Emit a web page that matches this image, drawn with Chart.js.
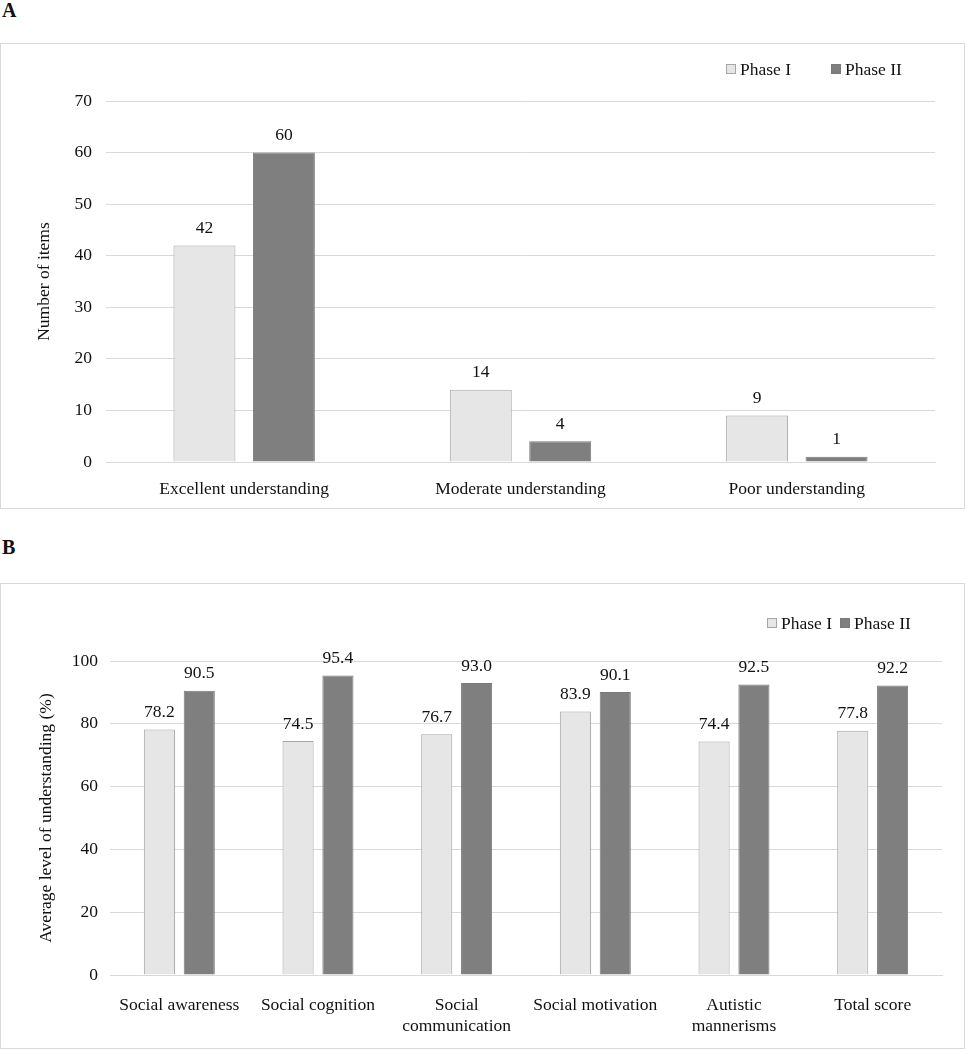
<!DOCTYPE html>
<html lang="en">
<head>
    <meta charset="UTF-8">
    <title>Phase I vs Phase II understanding</title>
    <script src="https://cdn.jsdelivr.net/npm/chart.js@4.4.0/dist/chart.umd.min.js"></script>
    <style>
        body { margin: 0; background: #fff; font-family: "Liberation Serif", "Times New Roman", serif; color: #111; }
        .page { position: relative; width: 966px; height: 1050px; }
        .tag { position: absolute; left: 2px; font-weight: bold; font-size: 20px; }
        .panel { position: absolute; left: 0; width: 965px; height: 466px; box-sizing: border-box; border: 1px solid #d9d9d9; }
        .panel canvas { display: block; }
        .legend { position: absolute; display: flex; font-size: 17.5px; line-height: 20px; }
        .legend span.item { display: flex; align-items: center; }
        .legend span.box { display: inline-block; width: 8px; height: 8px; margin-right: 4px; }
    </style>
</head>
<body>
<div class="page">
    <div class="tag" style="top: -1px;">A</div>
    <div class="panel" style="top: 43px;">
        <canvas id="chartA" width="963" height="464"></canvas>
        <div class="legend" id="legendA" style="left: 725px; top: 15px; gap: 40px;"></div>
    </div>
    <div class="tag" style="top: 536px;">B</div>
    <div class="panel" style="top: 583px;">
        <canvas id="chartB" width="963" height="464"></canvas>
        <div class="legend" id="legendB" style="left: 766px; top: 29px; gap: 8px;"></div>
    </div>
</div>

<script>
    // series
    const seriesNames = ['Phase I', 'Phase II'];
    const seriesFill = ['#e7e6e6', '#7f7f7f'];
    const seriesBorder = ['#a5a5a5', '#7a7a7a'];

    // panel A
    const levelsA = ['Excellent understanding', 'Moderate understanding', 'Poor understanding'];
    const phase1A = [42, 14, 9];
    const phase2A = [60, 4, 1];
    const ticksA = [0, 10, 20, 30, 40, 50, 60, 70];

    // panel B
    const domainsB = ['Social awareness', 'Social cognition', ['Social', 'communication'],
        'Social motivation', ['Autistic', 'mannerisms'], 'Total score'];
    const phase1B = [78.2, 74.5, 76.7, 83.9, 74.4, 77.8];
    const phase2B = [90.5, 95.4, 93.0, 90.1, 92.5, 92.2];
    const ticksB = [0, 20, 40, 60, 80, 100];

    const FONT = '"Liberation Serif", "Times New Roman", serif';
    const SIZE = 17.5;
    const TEXT = '#111';
    const GRID = '#d9d9d9';

    // draws the value above each bar
    const valueLabels = {
        id: 'valueLabels',
        afterDatasetsDraw(chart, args, opts) {
            const ctx = chart.ctx;
            ctx.save();
            ctx.font = SIZE + 'px ' + FONT;
            ctx.fillStyle = TEXT;
            ctx.textAlign = 'center';
            ctx.textBaseline = 'middle';
            chart.data.datasets.forEach((ds, i) => {
                chart.getDatasetMeta(i).data.forEach((bar, j) => {
                    ctx.fillText(ds.data[j].toFixed(opts.decimals), bar.x, bar.y - 17);
                });
            });
            ctx.restore();
        }
    };

    function buildLegend(id) {
        const el = document.getElementById(id);
        seriesNames.forEach((name, i) => {
            const item = document.createElement('span');
            item.className = 'item';
            item.innerHTML = '<span class="box" style="background:' + seriesFill[i] +
                ';border:1px solid ' + seriesBorder[i] + '"></span>' + name;
            el.appendChild(item);
        });
    }

    function makeChart(canvasId, cfg) {
        return new Chart(document.getElementById(canvasId), {
            type: 'bar',
            data: {
                labels: cfg.labels,
                datasets: [cfg.s1, cfg.s2].map((d, i) => ({
                    label: seriesNames[i],
                    data: d,
                    backgroundColor: seriesFill[i],
                    borderColor: seriesBorder[i],
                    borderWidth: 1,
                    categoryPercentage: 0.575,
                    barPercentage: 0.78
                }))
            },
            options: {
                responsive: false,
                animation: false,
                layout: { padding: { top: cfg.top, right: cfg.right, left: 0, bottom: 0 } },
                plugins: {
                    legend: { display: false },
                    tooltip: { enabled: false },
                    valueLabels: { decimals: cfg.decimals }
                },
                scales: {
                    x: {
                        grid: { display: false },
                        border: { color: GRID, width: 1 },
                        ticks: { color: TEXT, font: { family: FONT, size: SIZE }, padding: cfg.xPad, maxRotation: 0, autoSkip: false },
                        afterFit(scale) { scale.height = cfg.xHeight; }
                    },
                    y: {
                        min: 0,
                        max: cfg.yTicks[cfg.yTicks.length - 1],
                        afterBuildTicks(scale) { scale.ticks = cfg.yTicks.map(v => ({ value: v })); },
                        grid: { color: GRID, drawTicks: false },
                        border: { display: false },
                        ticks: { color: TEXT, font: { family: FONT, size: SIZE }, padding: cfg.yPad },
                        title: {
                            display: true,
                            text: cfg.yTitle,
                            color: TEXT,
                            font: { family: FONT, size: SIZE },
                            padding: { top: cfg.titlePad, bottom: 0 }
                        },
                        afterFit(scale) { scale.width = cfg.yWidth; }
                    }
                }
            },
            plugins: [valueLabels]
        });
    }

    makeChart('chartA', {
        labels: levelsA, s1: phase1A, s2: phase2A, yTicks: ticksA, decimals: 0,
        yTitle: 'Number of items',
        top: 57, right: 29, yWidth: 105, yPad: 14, titlePad: 33, xHeight: 46, xPad: 9
    });

    makeChart('chartB', {
        labels: domainsB, s1: phase1B, s2: phase2B, yTicks: ticksB, decimals: 1,
        yTitle: 'Average level of understanding (%)',
        top: 77, right: 22, yWidth: 109, yPad: 12, titlePad: 35, xHeight: 73, xPad: 12
    });

    buildLegend('legendA');
    buildLegend('legendB');
</script>
</body>
</html>
